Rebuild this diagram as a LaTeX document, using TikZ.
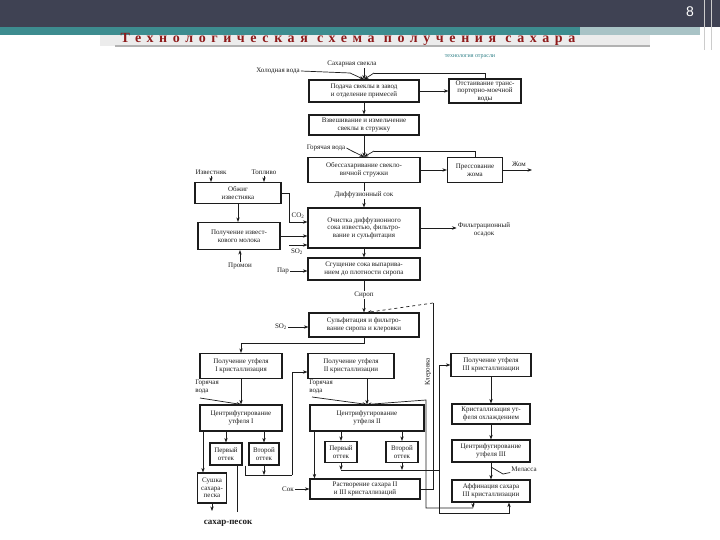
\documentclass[tikz,border=0pt]{standalone}
\usepackage{fontspec}
\setmainfont{Liberation Serif}
\setsansfont{Liberation Sans}
\newfontfamily\titlefont[LetterSpace=40]{Liberation Serif}
\usetikzlibrary{arrows.meta,calc}
\definecolor{ink}{HTML}{1C1C1C}
\definecolor{headbar}{HTML}{3F4253}
\definecolor{headteal}{HTML}{3D8C8F}
\definecolor{headpale}{HTML}{A9C3C6}
\definecolor{titlered}{HTML}{8E1B1B}
\definecolor{subteal}{HTML}{2E7F86}

\begin{document}
\begin{tikzpicture}[x=1pt,y=-1pt,
  font=\fontsize{7}{7.6}\selectfont, text=ink,
  flow/.style={-{Stealth[length=1.6mm,width=1.2mm]},draw=ink,line width=.7pt},
  link/.style={draw=ink,line width=.7pt},
  stage/.style={draw=ink,line width=1.1pt,align=center,inner sep=1pt},
  lbl/.style={align=center,inner sep=1pt}
]
\useasboundingbox (0,0) rectangle (720,540);
% Slide header
\fill[headbar] (0,0) rectangle (720,27);
\fill[headteal] (0,27) rectangle (580,35);
\fill[headpale] (580,27) rectangle (700,35);
\fill[gray!15] (100,35) rectangle (650,46);
\draw[gray!60,line width=1.5pt] (115,46) -- (650,46);
\draw[gray!40,line width=1pt] (704,0) -- (704,50);
\draw[gray!40,line width=1pt] (711,0) -- (711,50);
\node[text=white,font=\sffamily\fontsize{14}{16}\selectfont] (pagenum) at (690,12) {8};
\node[text=titlered,font=\titlefont\bfseries\fontsize{14}{16}\selectfont] (title) at (348,39)
  {Технологическая схема получения сахара};
\node[text=subteal,font=\fontsize{6}{7}\selectfont] (subject) at (470,57) {технология отрасли};

% Beet preparation and diffusion
\node[lbl] (beet) at (352,64) {Сахарная свекла};
\node[lbl] (coldw) at (278,71) {Холодная вода};
\node[stage,minimum width=110,minimum height=22] (supply) at (364,91)
  {Подача свеклы в завод\\и отделение примесей};
\node[stage,minimum width=72,minimum height=24] (settle) at (485,91)
  {Отстаивание транс-\\портерно-моечной\\воды};
\node[stage,minimum width=110,minimum height=20] (cut) at (364,125)
  {Взвешивание и измельчение\\свеклы в стружку};
\node[lbl] (hotw1) at (326,148) {Горячая вода};
\node[stage,minimum width=112,minimum height=25] (diff) at (364,170)
  {Обессахаривание свекло-\\вичной стружки};
\node[stage,minimum width=55,minimum height=25] (press) at (475,170)
  {Прессование\\жома};
\node[lbl] (zhom) at (519,164) {Жом};
\coordinate (zhomend) at (532,170);
\coordinate (coldin) at (350,73);
\coordinate (settleret) at (374,73);
\coordinate (hotin) at (352,151);
\coordinate (pressret) at (374,151);
\draw[flow] (beet.south -| supply.north) -- (supply.north);
\draw[link] (coldw.east) -- (coldin);
\draw[flow] (coldin) -- (supply.north);
\draw[link] (settle.north) |- (settleret);
\draw[flow] (settleret) -- (supply.north);
\draw[flow] (supply.east) -- (settle.west);
\draw[flow] (supply.south) -- (cut.north);
\draw[flow] (cut.south) -- (diff.north);
\draw[link] (hotw1.east) -- (hotin);
\draw[flow] (hotin) -- (diff.north);
\draw[link] (press.north) |- (pressret);
\draw[flow] (pressret) -- (diff.north);
\draw[flow] (diff.east) -- (press.west);
\draw[flow] (press.east) -- (zhomend);

% Lime kiln and juice purification
\node[lbl] (lime) at (211,172) {Известняк};
\node[lbl] (fuel) at (264,172) {Топливо};
\node[stage,minimum width=86,minimum height=21] (kiln) at (238,193)
  {Обжиг\\известняка};
\node[stage,minimum width=82,minimum height=27] (milk) at (239,236)
  {Получение извест-\\кового молока};
\node[stage,minimum width=112,minimum height=40] (juice) at (364,228)
  {Очистка диффузионного\\сока известью, фильтро-\\вание и сульфитация};
\node[lbl] (co2) at (298,216) {CO\textsubscript{2}};
\node[lbl] (so2a) at (297,252) {SO\textsubscript{2}};
\node[lbl] (filt) at (484,230) {Фильтрационный\\осадок};
\node[lbl] (rinse) at (240,266) {Промои};
\coordinate (co2turn) at (289,193);
\coordinate (so2start) at (289,245);
\draw[flow] (lime.south) -- (lime.south |- kiln.north);
\draw[flow] (fuel.south) -- (fuel.south |- kiln.north);
\draw[flow] (kiln.south) -- (kiln.south |- milk.north);
\draw[flow] (kiln.east) -- (co2turn) |- ([yshift=6pt]juice.west);
\draw[flow] (milk.east) -- (juice.west |- milk.east);
\draw[flow] (so2start) -- (juice.west |- so2start);
\draw[flow] (rinse.north) -- (rinse.north |- milk.south);
\draw[flow] (diff.south) -- (juice.north)
  node[midway,fill=white,lbl] (diffjuice) {Диффузионный сок};
\draw[flow] (juice.east) -- (juice.east -| filt.west);

% Evaporation and sulfitation
\node[stage,minimum width=112,minimum height=22] (evap) at (364,269)
  {Сгущение сока выпарива-\\нием до плотности сиропа};
\node[lbl] (steam) at (283,271) {Пар};
\node[stage,minimum width=110,minimum height=24] (sulf) at (364,325)
  {Сульфитация и фильтро-\\вание сиропа и клеровки};
\node[lbl] (so2b) at (281,327) {SO\textsubscript{2}};
\draw[flow] (juice.south) -- (evap.north);
\draw[flow] (steam.east) -- (steam.east -| evap.west);
\draw[flow] (evap.south) -- (sulf.north)
  node[pos=.45,fill=white,lbl] (syrup) {Сироп};
\draw[flow] (so2b.east) -- (so2b.east -| sulf.west);

% Crystallization stages
\node[stage,minimum width=82,minimum height=25] (massI) at (241,366)
  {Получение утфеля\\I кристаллизация};
\node[stage,minimum width=86,minimum height=25] (massII) at (351,366)
  {Получение утфеля\\II кристаллизации};
\node[stage,minimum width=80,minimum height=23] (massIII) at (491,365)
  {Получение утфеля\\III кристаллизации};
\node[lbl,align=left] (hotw2) at (207,387) {Горячая\\вода};
\node[lbl,align=left] (hotw3) at (321,387) {Горячая\\вода};
\node[stage,minimum width=82,minimum height=26] (cfI) at (241,418)
  {Центрифугирование\\утфеля I};
\node[stage,minimum width=114,minimum height=26] (cfII) at (367,418)
  {Центрифугирование\\утфеля II};
\node[stage,minimum width=78,minimum height=20] (cool) at (491,414)
  {Кристаллизация ут-\\феля охлаждением};
\node[stage,minimum width=78,minimum height=22] (cfIII) at (491,451)
  {Центрифугирование\\утфеля III};
\node[stage,minimum width=78,minimum height=22] (affin) at (491,491)
  {Аффинация сахара\\III кристаллизации};
\node[lbl] (molasses) at (524,469) {Меласса};
\node[lbl,rotate=90] (klerlbl) at (428,372) {Клеровка};
\coordinate (syrupsplit) at (364,343);
\coordinate (hw2in) at (200,398);
\coordinate (hw3in) at (312,397);
\draw[flow] (sulf.south) -- (syrupsplit) -| (massI.north);
\draw[flow] (massI.south) -- (cfI.north);
\draw[flow] (hw2in) -- (cfI.north);
\draw[flow] (cfII.north |- massII.south) -- (cfII.north);
\draw[flow] (hw3in) -- (cfII.north);
\draw[flow] (massIII.south) -- (cool.north);
\draw[flow] (cool.south) -- (cfIII.north);
\draw[flow] (cfIII.south) -- (affin.north);
\coordinate (melfork) at (491,467);
\coordinate (melbend) at (503,474);
\draw[link] (melfork) -- (melbend) -- (molasses.south west);

% Runoffs, drying, dissolving
\node[stage,minimum width=32,minimum height=22] (r1I) at (226,454) {Первый\\оттек};
\node[stage,minimum width=30,minimum height=22] (r2I) at (264,454) {Второй\\оттек};
\node[stage,minimum width=32,minimum height=21] (r1II) at (341,452) {Первый\\оттек};
\node[stage,minimum width=32,minimum height=21] (r2II) at (402,452) {Второй\\оттек};
\node[stage,minimum width=29,minimum height=30] (dry) at (212,488) {Сушка\\сахара-\\песка};
\node[font=\bfseries\fontsize{9}{10}\selectfont] (sand) at (228,523) {сахар-песок};
\node[stage,minimum width=110,minimum height=20] (diss) at (365,489)
  {Растворение сахара II\\и III кристаллизаций};
\node[lbl] (sok) at (288,489) {Сок};
\coordinate (drydown) at (212,511);
\coordinate (r1Ijoin) at (245,475);
\coordinate (r1Idown) at (237,512);
\coordinate (lineIright) at (292,475);
\coordinate (ottII) at (439,470);
\coordinate (lineBbot) at (439,513);
\coordinate (affout) at (473,508);
\coordinate (affleft) at (426,508);
\coordinate (affup) at (426,400);
\coordinate (klertop) at (433,303);
\draw[flow] (cfI.south -| r1I.north) -- (r1I.north);
\draw[flow] (cfI.south -| r2I.north) -- (r2I.north);
\draw[flow] ([xshift=-9pt]cfI.south -| dry.north) -- ([xshift=-9pt]dry.north);
\draw[flow] (dry.south) -- (drydown);
\draw[link] (r1Ijoin |- r1I.south) -- (r1Ijoin) -- (lineIright);
\draw[link] (r1Idown |- r1I.south) -- (r1Idown);
\draw[flow] (r2I.south) -- (r2I.south |- r1Ijoin);
\draw[flow] (lineIright) |- ([yshift=-6pt]massII.west);
\draw[flow] (cfII.south -| r1II.north) -- (r1II.north);
\draw[flow] (cfII.south -| r2II.north) -- (r2II.north);
\draw[flow] ([xshift=5pt]cfII.south west) -- ([xshift=5pt]cfII.south west |- diss.north);
\draw[flow] (sok.east) -- (sok.east -| diss.west);
\draw[flow] (r1II.south) -- (r1II.south |- ottII);
\draw[flow] (r2II.south) -- (r2II.south |- ottII);
\draw[link] (r1II.south |- ottII) -- (ottII);
\draw[flow] (lineBbot) |- (massIII.west);
\draw[flow] (lineBbot) -| ([xshift=18pt]affin.south);
\draw[flow] ([xshift=-18pt]affin.south) -- (affout);
\draw[flow] (affout) -- (affleft) -- (affup) -- (cfII.north);
\draw[link] (diss.east) -| (klertop);
\draw[flow,dashed] (klertop) -- ([xshift=3pt]sulf.north);
\end{tikzpicture}
\end{document}
